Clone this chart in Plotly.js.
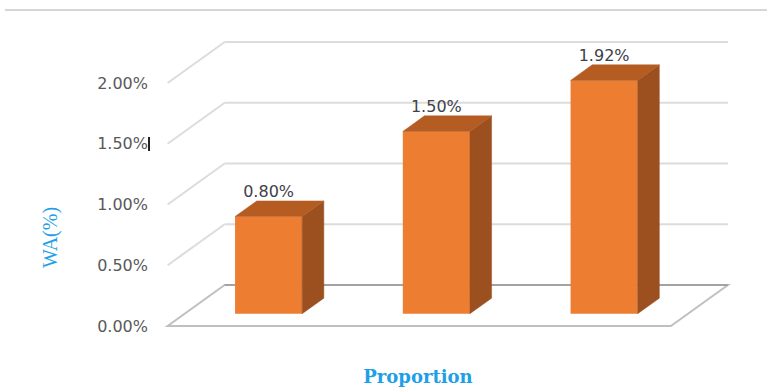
<!DOCTYPE html>
<html>
<head>
<meta charset="utf-8">
<script src="https://cdn.plot.ly/plotly-3.0.1.min.js"></script>
<style>html,body{margin:0;padding:0;background:#fff;}#chart{width:767px;height:387px;}</style>
</head>
<body>
<div id="chart"></div>
<script>
// ---- data ----
const categories = ["1", "2", "3"];
const values = [0.80, 1.50, 1.92];           // WA in percent
const valueLabels = ["0.80%", "1.50%", "1.92%"];
const yTickVals = [0, 0.5, 1.0, 1.5, 2.0];
const yTickText = ["0.00%", "0.50%", "1.00%", "1.50%", "2.00%"];

// ---- pseudo-3D projection (depth offsets expressed in axis units) ----
const DX = 0.34;    // x shift for full depth (category units)
const DY = 0.3374;  // y shift for full depth (percent units)
const D0 = 0.30, D1 = 0.68, HW = 0.2;
const C0 = -0.5, C1 = categories.length - 0.5;
function P(c, v, d) { return [c + d * DX, v + d * DY]; }
function pathOf(pts) {
  return pts.map((p, i) => (i ? "L" : "M") + p[0] + "," + p[1]).join(" ") + " Z";
}
const PH = 347; // plot-area height in px (paper units are relative to it)
function py(px) { return (PH - px) / PH; }

const shapes = [];
// floor
shapes.push({type: "path", xref: "x", yref: "y", layer: "below",
  path: pathOf([P(C0,0,0), P(C1,0,0), P(C1,0,1), P(C0,0,1)]),
  fillcolor: "#ffffff", line: {color: "#c0c0c0", width: 2}});
// back wall gridlines & left wall slants
yTickVals.forEach(v => {
  const a = P(C0, v, 1), b = P(C1, v, 1);
  shapes.push({type: "line", xref: "x", yref: "y", layer: "below",
    x0: a[0], y0: a[1], x1: b[0], y1: b[1],
    line: {color: v === 0 ? "#9a9a9a" : "#dcdcdc", width: v === 0 ? 1.5 : 2}});
  if (v > 0) {
    const f = P(C0, v, 0);
    shapes.push({type: "line", xref: "x", yref: "y", layer: "below",
      x0: f[0], y0: f[1], x1: a[0], y1: a[1],
      line: {color: "#dcdcdc", width: 2}});
  }
});
// top border line and cursor mark
shapes.push({type: "line", xref: "paper", yref: "paper", x0: 5/767, x1: 1, y0: py(10), y1: py(10),
  line: {color: "#d6d6d6", width: 2}});
shapes.push({type: "line", xref: "paper", yref: "paper", x0: 149/767, x1: 149/767, y0: py(137), y1: py(151),
  line: {color: "#222222", width: 2}});

const traces = [];
const idx = categories.map((_, i) => i);
// front faces
traces.push({type: "bar", x: idx.map(i => i + D0 * DX), y: values, base: D0 * DY,
  width: 2 * HW, marker: {color: "#ED7D31", line: {width: 0}}, hoverinfo: "skip", showlegend: false});
// side and top faces
idx.forEach(i => {
  const v = values[i];
  const side = [P(i+HW, 0, D0), P(i+HW, v, D0), P(i+HW, v, D1), P(i+HW, 0, D1)];
  const top = [P(i-HW, v, D0), P(i+HW, v, D0), P(i+HW, v, D1), P(i-HW, v, D1)];
  [[side, "#9C5020"], [top, "#B45C22"]].forEach(([pts, col]) => {
    traces.push({type: "scatter", mode: "lines", fill: "toself", fillcolor: col,
      x: pts.map(p => p[0]).concat([pts[0][0]]), y: pts.map(p => p[1]).concat([pts[0][1]]),
      line: {color: col, width: 0.5}, hoverinfo: "skip", showlegend: false});
  });
});
// data labels
traces.push({type: "scatter", mode: "text", x: idx.map(i => i + D0 * DX), y: values.map(v => v + D1 * DY),
  text: valueLabels, textposition: "top center", cliponaxis: false,
  textfont: {family: "DejaVu Sans", size: 16, color: "#404048"}, hoverinfo: "skip", showlegend: false});

const layout = {
  width: 767, height: 387,
  margin: {l: 0, r: 0, t: 0, b: 40},
  paper_bgcolor: "#ffffff", plot_bgcolor: "rgba(0,0,0,0)",
  showlegend: false,
  xaxis: {domain: [69/767, 1], range: [-1.0879, 3.0730], visible: true, showgrid: false, zeroline: false,
    showline: false, showticklabels: false, ticks: "", fixedrange: true,
    title: {text: "Proportion", standoff: 23, font: {family: "DejaVu Serif", size: 18, color: "#1E9FE8", weight: "bold"}}},
  yaxis: {range: [-0.1728, 2.6831], anchor: "free", position: 150/767, side: "left",
    showgrid: false, zeroline: false, showline: false, ticks: "",
    tickmode: "array", tickvals: yTickVals, ticktext: yTickText, ticklabelstandoff: 2,
    tickfont: {family: "DejaVu Sans", size: 16, color: "#595959"}, fixedrange: true},
  shapes: shapes,
  annotations: [{text: "WA(%)", xref: "paper", yref: "paper", x: 50/767, y: py(238),
    showarrow: false, textangle: -90, xanchor: "center", yanchor: "middle",
    font: {family: "Liberation Serif", size: 20, color: "#1E9FE8"}}]
};
Plotly.newPlot("chart", traces, layout, {displayModeBar: false, staticPlot: true});
</script>
</body>
</html>
